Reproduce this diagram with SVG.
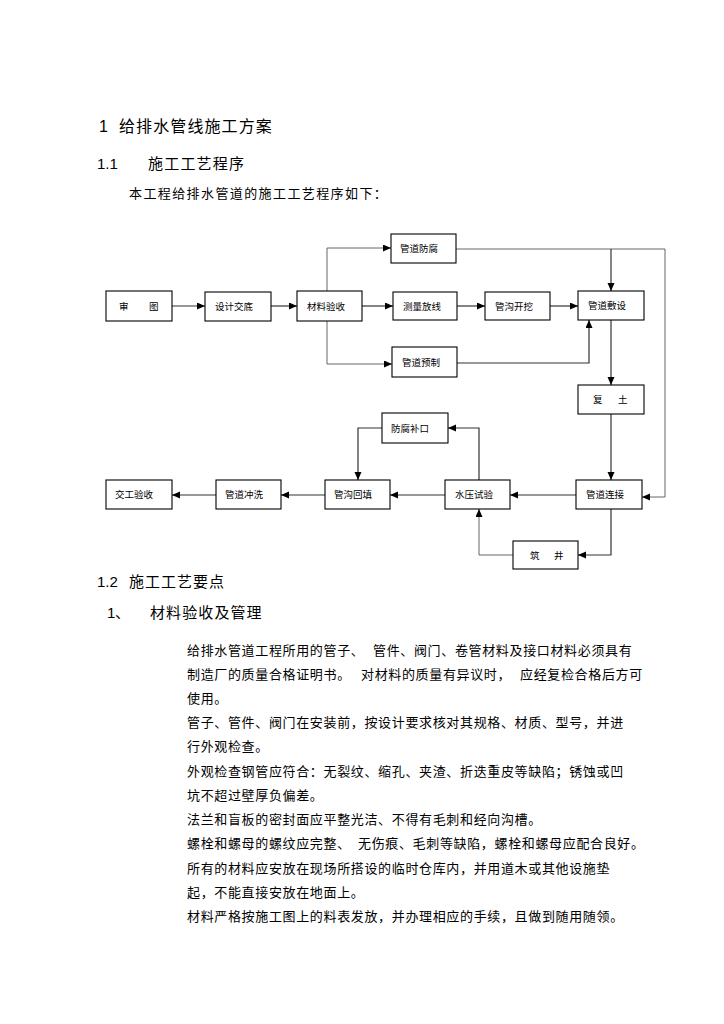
<svg xmlns="http://www.w3.org/2000/svg" width="724" height="1024" viewBox="0 0 724 1024">
<style>
.t{font-family:"Noto Sans CJK SC","Liberation Sans",sans-serif;fill:#000}
.lat{font-family:"Liberation Sans","Noto Sans CJK SC",sans-serif;fill:#000}
.h1{font-size:16px;letter-spacing:1.1px}
.h2{font-size:15px;letter-spacing:1.2px}
.p{font-size:13px;letter-spacing:0.65px}
.bx{fill:#fff;stroke:#000;stroke-width:1.1}
.bt{font-family:"Noto Sans CJK SC","Liberation Sans",sans-serif;font-size:9.5px;fill:#000}
.c{fill:none;stroke:#333;stroke-width:1.2}
.cl{fill:none;stroke:#666;stroke-width:1}
</style>
<defs>
<marker id="ah" markerUnits="userSpaceOnUse" markerWidth="9" markerHeight="8" refX="8" refY="3.5" orient="auto">
<path d="M0,0 L8,3.5 L0,7 z" fill="#000"/>
</marker>
</defs>
<rect width="724" height="1024" fill="#fff"/>

<g id="headings">
<text class="lat" x="99" y="132" font-size="16">1</text>
<text class="t h1" x="119" y="132">给排水管线施工方案</text>
<text class="lat" x="97" y="169" font-size="15">1.1</text>
<text class="t h2" x="148" y="169">施工工艺程序</text>
<text class="t" x="129" y="198" font-size="13" letter-spacing="1.4">本工程给排水管道的施工工艺程序如下：</text>
<text class="lat" x="97" y="587" font-size="15">1.2</text>
<text class="t" x="129" y="587" font-size="15" letter-spacing="1">施工工艺要点</text>
<text class="lat" x="107" y="618" font-size="15">1</text>
<text class="t" x="115" y="618" font-size="15">、</text>
<text class="t" x="150" y="618" font-size="15" letter-spacing="1.1">材料验收及管理</text>
</g>

<g id="connectors">
<path class="c" d="M172,306 H205" marker-end="url(#ah)"/>
<path class="c" d="M271,306 H297" marker-end="url(#ah)"/>
<path class="c" d="M362,306 H393" marker-end="url(#ah)"/>
<path class="c" d="M457,306 H485" marker-end="url(#ah)"/>
<path class="c" d="M550,306 H578" marker-end="url(#ah)"/>
<path class="cl" d="M327,291 V248"/>
<path class="cl" d="M327,320 V364"/>
<path class="cl" d="M327,248 H391" marker-end="url(#ah)"/>
<path class="cl" d="M327,364 H392" marker-end="url(#ah)"/>
<path class="cl" d="M456,249 H665 V497 H642" marker-end="url(#ah)"/>
<path class="c" d="M611,249 V291" marker-end="url(#ah)"/>
<path class="c" d="M457,363 H589 V320" marker-end="url(#ah)"/>
<path class="c" d="M611,320 V385" marker-end="url(#ah)"/>
<path class="c" d="M611,414 V480" marker-end="url(#ah)"/>
<path class="c" d="M576,495 H510" marker-end="url(#ah)"/>
<path class="c" d="M479,480 V428 H448" marker-end="url(#ah)"/>
<path class="c" d="M382,428 H358 V480" marker-end="url(#ah)"/>
<path class="c" d="M445,495 H390" marker-end="url(#ah)"/>
<path class="c" d="M325,495 H281" marker-end="url(#ah)"/>
<path class="c" d="M216,495 H172" marker-end="url(#ah)"/>
<path class="c" d="M611,509 V555 H578" marker-end="url(#ah)"/>
<path class="cl" d="M513,555 H479 V509" marker-end="url(#ah)"/>
</g>

<g id="n-shentu"><rect class="bx" x="106" y="291" width="66" height="30"/><text class="bt" x="119" y="309.5">审</text><text class="bt" x="149" y="309.5">图</text></g>
<g id="n-sheji"><rect class="bx" x="205" y="292" width="66" height="29"/><text class="bt" x="215" y="310">设计交底</text></g>
<g id="n-cailiao"><rect class="bx" x="297" y="291" width="65" height="30"/><text class="bt" x="307" y="309.5">材料验收</text></g>
<g id="n-fangfu"><rect class="bx" x="391" y="234" width="65" height="29"/><text class="bt" x="400" y="252">管道防腐</text></g>
<g id="n-celiang"><rect class="bx" x="393" y="292" width="64" height="28"/><text class="bt" x="403" y="309.5">测量放线</text></g>
<g id="n-kaiwa"><rect class="bx" x="485" y="292" width="65" height="28"/><text class="bt" x="495" y="309.5">管沟开挖</text></g>
<g id="n-fushe"><rect class="bx" x="578" y="291" width="66" height="29"/><text class="bt" x="588" y="309">管道敷设</text></g>
<g id="n-yuzhi"><rect class="bx" x="392" y="347" width="65" height="30"/><text class="bt" x="402" y="365.5">管道预制</text></g>
<g id="n-futu"><rect class="bx" x="578" y="385" width="66" height="29"/><text class="bt" x="593" y="403">复</text><text class="bt" x="618" y="403">土</text></g>
<g id="n-bukou"><rect class="bx" x="382" y="413" width="66" height="30"/><text class="bt" x="391" y="431.5">防腐补口</text></g>
<g id="n-lianjie"><rect class="bx" x="576" y="480" width="66" height="29"/><text class="bt" x="586" y="498">管道连接</text></g>
<g id="n-shiya"><rect class="bx" x="445" y="480" width="65" height="29"/><text class="bt" x="455" y="498">水压试验</text></g>
<g id="n-huitian"><rect class="bx" x="325" y="480" width="65" height="29"/><text class="bt" x="334" y="498">管沟回填</text></g>
<g id="n-chongxi"><rect class="bx" x="216" y="480" width="65" height="29"/><text class="bt" x="225" y="498">管道冲洗</text></g>
<g id="n-jiaogong"><rect class="bx" x="106" y="480" width="66" height="29"/><text class="bt" x="115" y="498">交工验收</text></g>
<g id="n-zhujing"><rect class="bx" x="513" y="541" width="65" height="28"/><text class="bt" x="530" y="558.5">筑</text><text class="bt" x="554" y="558.5">井</text></g>

<g id="paragraph">
<text class="t p" x="187" y="655">给排水管道工程所用的管子、</text>
<text class="t p" x="373" y="655">管件、阀门、卷管材料及接口材料必须具有</text>
<text class="t p" x="187" y="679">制造厂的质量合格证明书。</text>
<text class="t p" x="361" y="679">对材料的质量有异议时，</text>
<text class="t p" x="520" y="679">应经复检合格后方可</text>
<text class="t p" x="187" y="703">使用。</text>
<text class="t p" x="187" y="727">管子、管件、阀门在安装前，按设计要求核对其规格、材质、型号，并进</text>
<text class="t p" x="187" y="751">行外观检查。</text>
<text class="t p" x="187" y="776">外观检查钢管应符合：无裂纹、缩孔、夹渣、折迭重皮等缺陷；锈蚀或凹</text>
<text class="t p" x="187" y="800">坑不超过壁厚负偏差。</text>
<text class="t p" x="187" y="824">法兰和盲板的密封面应平整光洁、不得有毛刺和经向沟槽。</text>
<text class="t p" x="187" y="848">螺栓和螺母的螺纹应完整、</text>
<text class="t p" x="358" y="848">无伤痕、毛刺等缺陷，螺栓和螺母应配合良好。</text>
<text class="t p" x="187" y="873">所有的材料应安放在现场所搭设的临时仓库内，并用道木或其他设施垫</text>
<text class="t p" x="187" y="897">起，不能直接安放在地面上。</text>
<text class="t p" x="187" y="921">材料严格按施工图上的料表发放，并办理相应的手续，且做到随用随领。</text>
</g>
</svg>
